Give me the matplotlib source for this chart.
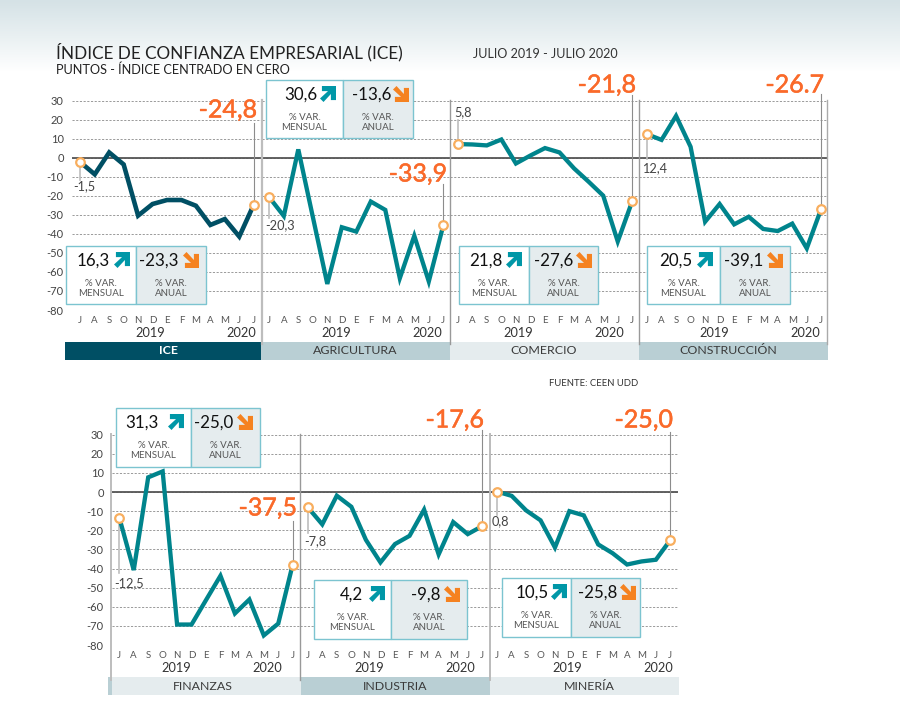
import numpy as np
import matplotlib
matplotlib.use("Agg")
import matplotlib.pyplot as plt
import matplotlib.patheffects as pe
from matplotlib.patches import Rectangle, Polygon
from matplotlib.colors import LinearSegmentedColormap

# ---------- data ----------
months = ["J", "A", "S", "O", "N", "D", "E", "F", "M", "A", "M", "J", "J"]
y_ticks = [30, 20, 10, 0, -10, -20, -30, -40, -50, -60, -70, -80]

ice = [-2.3, -8.7, 2.8, -3.5, -30.4, -24.3, -22.2, -22.2, -25.2, -35.3, -32.2, -41.4, -24.7]
agricultura = [-20.8, -30.6, 4.4, -31, -66.3, -36.5, -38.8, -23, -27.4, -63.3, -41, -65, -35.5]
comercio = [7.2, 7.0, 6.5, 9.6, -3, 1.2, 5.1, 2.8, -5.6, -12.6, -19.9, -44, -22.7]
construccion = [12.4, 9.4, 22, 5.8, -33.6, -24.3, -35, -31, -37.4, -38.5, -34.6, -47.6, -26.7]
finanzas = [-13.4, -40.8, 7.7, 10.8, -69.3, -69.3, -56.5, -43.8, -63.5, -56.2, -75, -68.8, -37.9]
industria = [-7.9, -16.9, -1.9, -7.7, -25, -36.8, -27.2, -22.9, -9.2, -32.6, -15.7, -22, -17.8]
mineria = [0.2, -2, -9.6, -14.8, -29, -10, -12.2, -27.4, -32, -37.9, -36.3, -35.4, -25.1]

names = ["ICE", "AGRICULTURA", "COMERCIO", "CONSTRUCCIÓN", "FINANZAS", "INDUSTRIA", "MINERÍA"]
series = [ice, agricultura, comercio, construccion, finanzas, industria, mineria]
last_labels = ["-24,8", "-33,9", "-21,8", "-26.7", "-37,5", "-17,6", "-25,0"]
first_labels = ["-1,5", "-20,3", "5,8", "12,4", "-12,5", "-7,8", "0,8"]
monthly = ["16,3", "30,6", "21,8", "20,5", "31,3", "4,2", "10,5"]
annual = ["-23,3", "-13,6", "-27,6", "-39,1", "-25,0", "-9,8", "-25,8"]

# ---------- style & layout (pixels) ----------
W, H = 900, 716
FONT = "Lato"
plt.rcParams["font.family"] = [FONT, "DejaVu Sans"]
plt.rcParams["axes.unicode_minus"] = False
TEAL, DARK, ORANGE = "#00848C", "#004F64", "#FA6A2A"
BAND_D, BAND_L = "#B9CFD4", "#E5ECEE"
TXT = "#444444"

top = (100.7, 310.0)
bot = (434.7, 645.0)
# left, right of panel, px of first J, px of last J, row
panels = [
    (72, 262, 80.3, 253.7, top), (262, 450, 269.3, 443.3, top),
    (450, 639, 457.7, 632.3, top), (639, 827, 647.0, 821.3, top),
    (112, 300, 119.3, 292.7, bot), (300, 490, 307.7, 482.3, bot),
    (490, 678, 497.3, 670.3, bot),
]
bands = [
    (65, 261, DARK), (261, 450, BAND_D), (450, 639, BAND_L), (639, 828, BAND_D),
    (112, 301, BAND_L), (301, 490, BAND_D), (490, 679, BAND_L),
]
band_cx = [168, 355, 544, 728, 203, 395, 589]
year_px = [(150, 241), (336, 427), (518, 609), (714, 805), (176, 267), (369, 460), (567, 658)]
# box: x0, split, x1, y0, y1
boxes = [
    (66, 136, 206, 246, 304), (266, 343, 413, 80, 138), (459, 529, 598, 246, 304),
    (647, 720, 790, 246, 304), (116, 191, 260, 408, 467), (314, 391, 467, 580, 639),
    (502, 571, 640, 578, 637),
]
# value right edge, arrow left edge: monthly then annual
box_px = [(110, 114, 179, 183), (317, 320, 391, 393), (503, 506, 573, 576),
          (692, 697, 763, 767), (159, 168, 233, 237), (363, 369, 440, 444),
          (549, 551, 617, 620)]
# big label right, centre y, leader top y
big = [(257, 110, 123), (447, 174, 184), (636, 85, 95), (824, 85, 94),
       (297, 508, 521), (484, 420, 430), (673, 420, 432)]
# small label left x, y, leader end y
small = [(73, 186, 180), (265, 225, 218), (454, 112, 120), (642, 168, 159),
         (114, 583, 573), (304, 541, 533), (492, 521, 515)]

fig = plt.figure(figsize=(W / 100, H / 100), dpi=100, facecolor="white")

# background gradient
bg = fig.add_axes([0, 0, 1, 1], zorder=0)
bg.axis("off")
cmap = LinearSegmentedColormap.from_list("g", ["#D5E2E6", "#E9F0F2", "#FFFFFF"])
grad = np.linspace(0, 1, 72)[:, None]
bg.imshow(grad, cmap=cmap, extent=(0, W, 72, 0), aspect="auto")
bg.set_xlim(0, W)
bg.set_ylim(H, 0)


def panel_axes(p):
    l, r, x0, x1, (yt, yb) = p
    ax = fig.add_axes([l / W, 1 - yb / H, (r - l) / W, (yb - yt) / H], zorder=2)
    ax.patch.set_alpha(0)
    s = (x1 - x0) / 12
    ax.set_xlim((l - x0) / s, (r - x0) / s)
    ax.set_ylim(-80, 30)
    for sp in ax.spines.values():
        sp.set_visible(False)
    return ax


def y_data(py, row):
    yt, yb = row
    return 30 - (py - yt) * 110 / (yb - yt)


for i, (p, vals) in enumerate(zip(panels, series)):
    ax = panel_axes(p)
    row = p[4]
    ax.set_yticks(y_ticks)
    ax.grid(axis="y", ls=(0, (2.2, 1.6)), lw=0.7, color="#9A9A9A")
    ax.set_axisbelow(True)
    ax.axhline(0, color="#555555", lw=1.3, zorder=1)
    ax.set_xticks(range(13), months, fontsize=7, color="#555555")
    ax.tick_params(axis="x", length=0, pad=4)
    if i in (0, 4):
        ax.tick_params(axis="y", length=0, pad=6, labelsize=8, labelcolor=TXT)
    else:
        ax.tick_params(axis="y", length=0, labelleft=False)
    xs = np.arange(13)
    # leaders
    ax.plot([0, 0], [vals[0], y_data(small[i][2], row)], color="#BDBDBD", lw=1.2,
            clip_on=False, zorder=2)
    ax.plot([12, 12], [vals[-1], y_data(big[i][2], row)], color="#8C8C8C", lw=0.8,
            clip_on=False, zorder=2)
    ax.plot(xs, vals, color=DARK if i == 0 else TEAL, lw=3.3 if i == 0 else 3.1,
            solid_joinstyle="miter", solid_capstyle="butt", clip_on=False, zorder=3)
    for k in (0, 12):
        ax.plot(k, vals[k], "o", ms=6.2, mfc="white", mec="#F8AE5E", mew=1.6,
                clip_on=False, zorder=4)

# overlay in pixels
ov = fig.add_axes([0, 0, 1, 1], zorder=3)
ov.axis("off")
ov.set_xlim(0, W)
ov.set_ylim(H, 0)


def arrow(x0, y0, s, color, up=True):
    # unit shape: bent arrowhead with diagonal shaft, pointing up-right
    t = 0.32
    pts = np.array([(0.12, 0), (1, 0), (1, 0.88), (1 - t, 0.88), (1 - t, 0.5),
                    (0.22, 1), (0, 0.78), (0.5, 0.32), (0.12, 0.32)])
    if up:
        xy = np.c_[x0 + pts[:, 0] * s, y0 + pts[:, 1] * s]
    else:
        xy = np.c_[x0 + (1 - pts[:, 1]) * s, y0 + pts[:, 0] * s]
    ov.add_patch(Polygon(xy, closed=True, fc=color, ec="none", zorder=6))


for i in range(7):
    a, b, c = bands[i]
    row = panels[i][4]
    y0 = row[1] + 32
    h = 18
    ov.add_patch(Rectangle((a, y0), b - a, h, fc=c, ec="none", zorder=1))
    ov.text(band_cx[i], y0 + h / 2, names[i], ha="center", va="center", fontsize=8.9,
            color="white" if i == 0 else "#3A3A3A", fontweight="bold" if i == 0 else "normal",
            zorder=3)
    for yx, yl in zip(year_px[i], ("2019", "2020")):
        ov.text(yx, row[1] + 23, yl, ha="center", va="center", fontsize=9.2,
                color="#333333", zorder=3)
    # big label
    bx, by, _ = big[i]
    ov.text(bx, by, last_labels[i], ha="right", va="center", fontsize=18, color=ORANGE,
            zorder=5, path_effects=[pe.withStroke(linewidth=0.35, foreground=ORANGE)])
    sx, sy, _ = small[i]
    ov.text(sx, sy, first_labels[i], ha="left", va="center", fontsize=9.2, color="#444444", zorder=5)
    # box
    x0, xs_, x1, y0b, y1b = boxes[i]
    ov.add_patch(Rectangle((x0, y0b), xs_ - x0, y1b - y0b, fc="white", ec="#7CC4D0", lw=1.0, zorder=4))
    ov.add_patch(Rectangle((xs_, y0b), x1 - xs_, y1b - y0b, fc="#E5ECEE", ec="#7CC4D0", lw=1.0, zorder=4))
    mr, ma, ar, aa = box_px[i]
    arrow(ma, y0b + 6, 16, "#0097A7", up=True)
    arrow(aa, y0b + 6, 16, "#F58220", up=False)
    ov.text(mr, y0b + 15, monthly[i], ha="right", va="center", fontsize=12.2, color="#111111", zorder=5)
    ov.text(ar, y0b + 15, annual[i], ha="right", va="center", fontsize=12.2, color="#111111", zorder=5)
    for cx, lab in (((x0 + xs_) / 2, "MENSUAL"), ((xs_ + x1) / 2, "ANUAL")):
        ov.text(cx, y0b + 37, "% VAR.", ha="center", va="center", fontsize=7, color="#555555", zorder=5)
        ov.text(cx, y0b + 48, lab, ha="center", va="center", fontsize=7, color="#555555", zorder=5)

# separators
for x, w, c, ya, yb_ in [
    (262, 1.6, "#BDBDBD", 100, 344), (450, 1.0, "#999999", 100, 344),
    (639, 1.0, "#999999", 100, 344), (827, 1.0, "#AAAAAA", 100, 344),
    (111, 1.4, "#BDBDBD", 434, 680), (300, 1.0, "#999999", 434, 680),
    (490, 1.4, "#BBBBBB", 434, 680),
]:
    ov.plot([x, x], [ya, yb_], color=c, lw=w, zorder=2)
ov.add_patch(Rectangle((108, 677), 4, 18, fc=BAND_D, ec="none", zorder=1))

ov.text(56, 52, "ÍNDICE DE CONFIANZA EMPRESARIAL (ICE)", ha="left", va="center", fontsize=12.3, color="#222222")
ov.text(56, 70, "PUNTOS - ÍNDICE CENTRADO EN CERO", ha="left", va="center", fontsize=9.2, color="#222222")
ov.text(473, 54, "JULIO 2019 - JULIO 2020", ha="left", va="center", fontsize=9.1, color="#333333")
ov.text(549, 384, "FUENTE: CEEN UDD", ha="left", va="center", fontsize=6.8, color="#333333")

fig.savefig("out.png", dpi=100, facecolor="white")
